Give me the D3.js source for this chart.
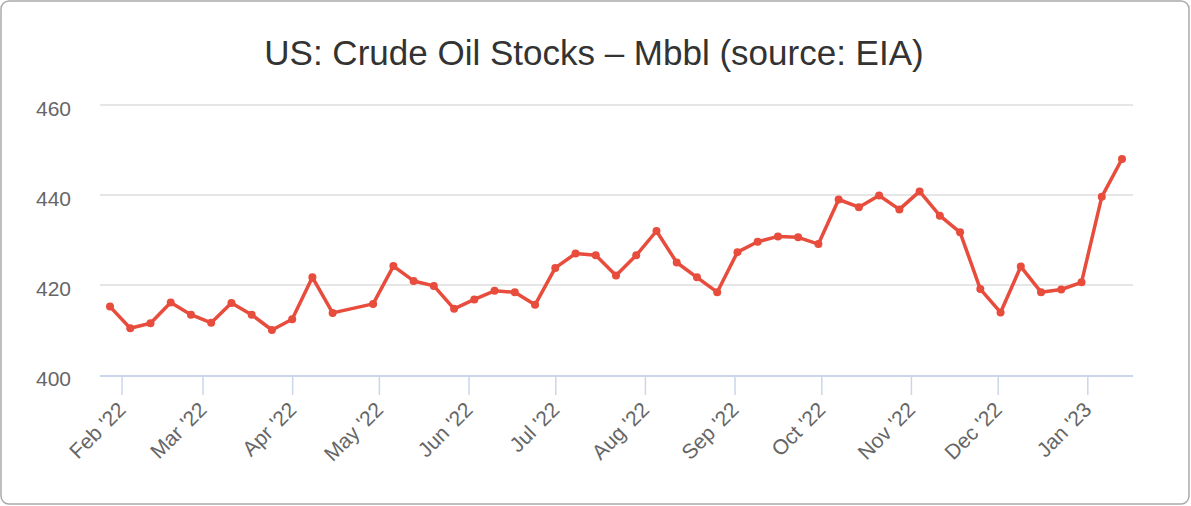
<!DOCTYPE html>
<html>
<head>
<meta charset="utf-8">
<script src="https://cdn.jsdelivr.net/npm/d3@7"></script>
<style>
  html, body { margin: 0; padding: 0; background: #fff; }
  svg { display: block; font-family: "Liberation Sans", Arial, sans-serif; }
</style>
</head>
<body>
<script>
// weekly EIA crude stocks, Mbbl (week of 2022-04-22 is absent in the source)
var weeks = [
  "2022-01-28", "2022-02-04", "2022-02-11", "2022-02-18", "2022-02-25",
  "2022-03-04", "2022-03-11", "2022-03-18", "2022-03-25", "2022-04-01",
  "2022-04-08", "2022-04-15", "2022-04-29", "2022-05-06", "2022-05-13",
  "2022-05-20", "2022-05-27", "2022-06-03", "2022-06-10", "2022-06-17",
  "2022-06-24", "2022-07-01", "2022-07-08", "2022-07-15", "2022-07-22",
  "2022-07-29", "2022-08-05", "2022-08-12", "2022-08-19", "2022-08-26",
  "2022-09-02", "2022-09-09", "2022-09-16", "2022-09-23", "2022-09-30",
  "2022-10-07", "2022-10-14", "2022-10-21", "2022-10-28", "2022-11-04",
  "2022-11-11", "2022-11-18", "2022-11-25", "2022-12-02", "2022-12-09",
  "2022-12-16", "2022-12-23", "2022-12-30", "2023-01-06", "2023-01-13"
];
var stocks = [
  415.2, 410.4, 411.5, 416.1, 413.4,
  411.6, 416.0, 413.4, 410.0, 412.4,
  421.7, 413.8, 415.8, 424.2, 420.9,
  419.8, 414.7, 416.8, 418.7, 418.4,
  415.6, 423.8, 427.0, 426.6, 422.1,
  426.6, 432.0, 425.0, 421.7, 418.4,
  427.3, 429.6, 430.8, 430.6, 429.1,
  439.0, 437.3, 439.9, 436.8, 440.8,
  435.4, 431.7, 419.1, 413.9, 424.1,
  418.4, 419.0, 420.6, 439.6, 448.0
];
var yTicks = [400, 420, 440, 460];
var xTicks = [
  "2022-02-01", "2022-03-01", "2022-04-01", "2022-05-01", "2022-06-01", "2022-07-01",
  "2022-08-01", "2022-09-01", "2022-10-01", "2022-11-01", "2022-12-01", "2023-01-01"
];
var title = "US: Crude Oil Stocks \u2013 Mbbl (source: EIA)";

var W = 1191, H = 506;
var plot = {left: 100, right: 1133, top: 105, bottom: 375};

var parse = d3.utcParse("%Y-%m-%d");
var fmt = d3.utcFormat("%b '%y");
var data = weeks.map(function(d, i) { return {date: parse(d), value: stocks[i]}; });

var svg = d3.select("body").append("svg")
    .attr("width", W)
    .attr("height", H);

// card frame
svg.append("rect")
    .attr("x", 1).attr("y", 1)
    .attr("width", W - 3).attr("height", H - 3)
    .attr("rx", 8)
    .attr("fill", "none")
    .attr("stroke", "#aaa")
    .attr("stroke-width", 1.5);

svg.append("text")
    .attr("x", 594)
    .attr("y", 65)
    .attr("text-anchor", "middle")
    .attr("font-size", 35)
    .attr("fill", "#333")
    .text(title);

var x = d3.scaleUtc()
    .domain(d3.extent(data, function(d) { return d.date; }))
    .range([plot.left + 10, plot.right - 11]);

var y = d3.scaleLinear()
    .domain([400, 460])
    .range([plot.bottom, plot.top]);

// horizontal grid
svg.append("g")
  .selectAll("line")
  .data(yTicks.slice(1))
  .enter().append("line")
    .attr("x1", plot.left).attr("x2", plot.right)
    .attr("y1", function(d) { return y(d); })
    .attr("y2", function(d) { return y(d); })
    .attr("stroke", "#e6e6e6")
    .attr("stroke-width", 2);

// y labels
svg.append("g")
  .selectAll("text")
  .data(yTicks)
  .enter().append("text")
    .attr("x", 71)
    .attr("y", function(d) { return y(d) + 11; })
    .attr("text-anchor", "end")
    .attr("font-size", 21)
    .attr("fill", "#666")
    .text(function(d) { return d; });

// x axis
var xAxis = svg.append("g")
    .attr("transform", "translate(0," + plot.bottom + ")")
    .call(d3.axisBottom(x)
        .tickValues(xTicks.map(parse))
        .tickSize(20)
        .tickFormat(fmt));

xAxis.select(".domain").remove();
xAxis.insert("line", ":first-child")
    .attr("x1", plot.left).attr("x2", plot.right)
    .attr("y1", 1).attr("y2", 1)
    .attr("stroke", "#ccd6eb")
    .attr("stroke-width", 2);
xAxis.selectAll(".tick line")
    .attr("stroke", "#ccd6eb")
    .attr("stroke-width", 1.5);
xAxis.selectAll(".tick text")
    .attr("font-size", 21)
    .attr("fill", "#666")
    .attr("text-anchor", "end")
    .attr("y", 0)
    .attr("dy", 0)
    .attr("transform", "translate(5,36) rotate(-45)");

// series
var line = d3.line()
    .x(function(d) { return x(d.date); })
    .y(function(d) { return y(d.value); });

svg.append("path")
    .datum(data)
    .attr("d", line)
    .attr("fill", "none")
    .attr("stroke", "#e74c3c")
    .attr("stroke-width", 3.5)
    .attr("stroke-linejoin", "round");

svg.append("g")
  .selectAll("circle")
  .data(data)
  .enter().append("circle")
    .attr("cx", function(d) { return x(d.date); })
    .attr("cy", function(d) { return y(d.value); })
    .attr("r", 4)
    .attr("fill", "#e74c3c");
</script>
</body>
</html>
